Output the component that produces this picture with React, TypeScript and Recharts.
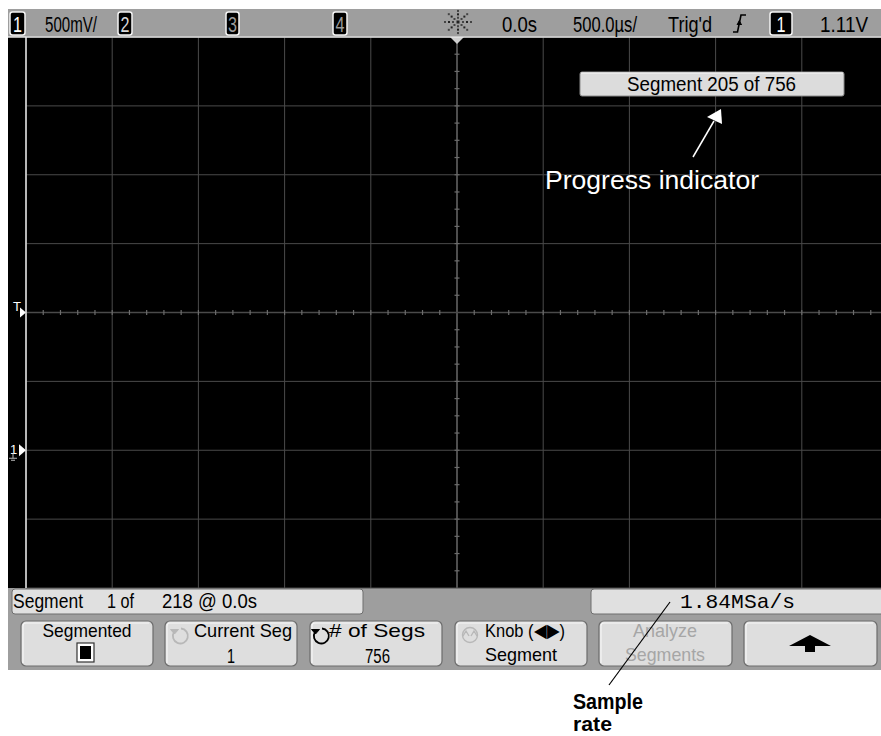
import React from "react";
import {
  ComposedChart,
  XAxis,
  YAxis,
  Scatter,
  ReferenceLine,
  ReferenceDot,
} from "recharts";

// ---- Graticule: 500 µs/div horizontally, 500 mV/div vertically ----
const timeMajorTicksUs = [-2500, -2000, -1500, -1000, -500, 0, 500, 1000, 1500, 2000, 2500];
const voltMajorTicks = [-2, -1.5, -1, -0.5, 0, 0.5, 1, 1.5, 2];
const timeMinorTicksUs = [
  -2400, -2300, -2200, -2100, -2000, -1900, -1800, -1700, -1600, -1500, -1400, -1300,
  -1200, -1100, -1000, -900, -800, -700, -600, -500, -400, -300, -200, -100,
  100, 200, 300, 400, 500, 600, 700, 800, 900, 1000, 1100, 1200,
  1300, 1400, 1500, 1600, 1700, 1800, 1900, 2000, 2100, 2200, 2300, 2400,
];
const voltMinorTicks = [
  -1.875, -1.75, -1.625, -1.5, -1.375, -1.25, -1.125, -1, -0.875, -0.75, -0.625, -0.5,
  -0.375, -0.25, -0.125, 0.125, 0.25, 0.375, 0.5, 0.625, 0.75, 0.875, 1,
  1.125, 1.25, 1.375, 1.5, 1.625, 1.75, 1.875,
];

// ---- Markers ----
const triggerTimeUs = 0;
const triggerMarkerVolt = 0;
const ch1GroundVolt = -1;

// ---- Status / softkey texts ----
const channelLabels = ["1", "2", "3", "4"];
const ch1Scale = "500mV/";
const timeRef = "0.0s";
const timeScale = "500.0µs/";
const trigStatus = "Trig'd";
const trigSource = "1";
const trigLevel = "1.11V";
const progressText = "Segment 205 of 756";
const segmentInfo = ["Segment", "1 of", "218 @ 0.0s"];
const sampleRate = "1.84MSa/s";
const softkeyTop = ["Segmented", "Current Seg", "# of Segs", "Knob (◀▶)", "Analyze"];
const softkeyBottom = ["1", "756", "Segment", "Segments"];
const annotations = ["Progress indicator", "Sample", "rate"];

const xMinorPts = timeMinorTicksUs.map((t) => ({ t, v: 0 }));
const yMinorPts = voltMinorTicks.map((v) => ({ t: 0, v }));

const NARROW = "'Liberation Sans Narrow','Arial Narrow','Liberation Sans',Arial,sans-serif";
const SANS = "'Liberation Sans',Arial,sans-serif";
const MONO = "'Liberation Mono','DejaVu Sans Mono',monospace";

type TP = {
  x: number;
  y: number;
  w?: number;
  size?: number;
  fill?: string;
  anchor?: "start" | "middle" | "end";
  family?: string;
  weight?: number | string;
  children: React.ReactNode;
};
const T = ({ x, y, w, size = 22, fill = "#000", anchor = "start", family = NARROW, weight = 400, children }: TP) => (
  <text
    x={x}
    y={y}
    fontSize={size}
    fill={fill}
    textAnchor={anchor}
    fontFamily={family}
    fontWeight={weight}
    textLength={w}
    lengthAdjust={w ? "spacingAndGlyphs" : undefined}
  >
    {children}
  </text>
);

const ChBox = ({ x, w, label, color }: { x: number; w: number; label: string; color: string }) => (
  <g>
    <rect x={x} y={12} width={w} height={23} rx={2.5} fill="#000" stroke="#f4f4f4" strokeWidth={1.5} />
    <T x={x + w / 2} y={32} size={22} anchor="middle" fill={color} w={9}>
      {label}
    </T>
  </g>
);

const Button = ({ x, w }: { x: number; w: number }) => (
  <g>
    <rect x={x} y={621} width={w} height={45} rx={5} fill="#dedede" stroke="#6c6c6c" strokeWidth={1.2} />
    <path d={`M ${x + 2} ${663} V ${626} Q ${x + 2} ${623} ${x + 5} ${623} H ${x + w - 4}`} fill="none" stroke="#f6f6f6" strokeWidth={1.2} />
  </g>
);

const RotIcon = ({ cx, cy, color }: { cx: number; cy: number; color: string }) => (
  <g fill="none" stroke={color} strokeWidth={1.8}>
    <path d={`M ${cx - 6} ${cy - 4} A 7.5 7.5 0 1 0 ${cx + 1} ${cy - 7.5}`} />
    <path d={`M ${cx - 9.5} ${cy - 6.5} L ${cx - 5.5} ${cy - 2} L ${cx - 1.5} ${cy - 6.5} Z`} fill={color} stroke={color} strokeWidth={1} />
  </g>
);

const Star = ({ cx, cy }: { cx: number; cy: number }) => {
  const dots: React.ReactNode[] = [];
  const radii = [5, 9, 13];
  for (let k = 0; k < 8; k++) {
    const a = (k * Math.PI) / 4;
    radii.forEach((r, i) => {
      dots.push(
        <rect
          key={`${k}-${i}`}
          x={cx + r * Math.cos(a) - 1}
          y={cy + r * 0.85 * Math.sin(a) - 1}
          width={2}
          height={2}
          fill={i === 1 ? "#222" : "#444"}
        />
      );
    });
  }
  dots.push(<rect key="c" x={cx - 1.5} y={cy - 1.5} width={3} height={3} fill="#222" />);
  return <g>{dots}</g>;
};

const Chrome = () => (
  <svg width={881} height={736} style={{ position: "absolute", left: 0, top: 0, pointerEvents: "none" }}>
    {/* top status line */}
    <line x1={8} x2={881} y1={37} y2={37} stroke="#e6e6e6" strokeWidth={1.5} />
    <ChBox x={10} w={15} label={channelLabels[0]} color="#fff" />
    <T x={45} y={32} w={52}>{ch1Scale}</T>
    <ChBox x={118} w={14} label={channelLabels[1]} color="#d8d8d8" />
    <ChBox x={226} w={13} label={channelLabels[2]} color="#9a9a9a" />
    <ChBox x={333} w={14} label={channelLabels[3]} color="#9a9a9a" />
    <Star cx={458} cy={22} />
    <T x={502} y={32} w={35}>{timeRef}</T>
    <T x={573} y={32} w={64}>{timeScale}</T>
    <T x={668} y={32} w={44}>{trigStatus}</T>
    <g fill="none" stroke="#000" strokeWidth={1.6}>
      <path d="M 733 32 H 737.5 L 741 15 H 746" />
      <path d="M 737 25 L 739.3 20.5 L 741.6 25" fill="#000" strokeWidth={1} />
    </g>
    <rect x={770} y={12} width={22} height={23} rx={2.5} fill="#000" stroke="#f4f4f4" strokeWidth={1.5} />
    <T x={781} y={32} size={22} anchor="middle" fill="#fff" w={9}>{trigSource}</T>
    <T x={820} y={32} w={48}>{trigLevel}</T>

    {/* plot left border */}
    <line x1={26} x2={26} y1={37} y2={588} stroke="#e8e8e8" strokeWidth={1.5} />

    {/* progress indicator */}
    <rect x={580} y={72} width={264} height={24} rx={2} fill="#dcdcdc" stroke="#8a8a8a" strokeWidth={1} />
    <line x1={581} x2={843} y1={73} y2={73} stroke="#f8f8f8" />
    <T x={627} y={91} size={20} w={169}>{progressText}</T>
    <line x1={693} y1={157} x2={714} y2={121} stroke="#fff" strokeWidth={1.5} />
    <polygon points="721,109 707,117 722,124" fill="#fff" />
    <T x={545} y={189} size={25} family={SANS} fill="#fff" w={214}>{annotations[0]}</T>

    {/* bottom info line */}
    <rect x={12} y={589} width={351} height={25} rx={3} fill="#e0e0e0" stroke="#6e6e6e" strokeWidth={1} />
    <T x={13} y={608} size={21} w={70}>{segmentInfo[0]}</T>
    <T x={107} y={608} size={21} w={27}>{segmentInfo[1]}</T>
    <T x={162} y={608} size={21} w={95}>{segmentInfo[2]}</T>
    <rect x={591} y={589} width={300} height={25} rx={3} fill="#e0e0e0" stroke="#6e6e6e" strokeWidth={1} />
    <T x={680} y={608} size={21} family={MONO} w={115}>{sampleRate}</T>

    {/* softkeys */}
    <Button x={21} w={132} />
    <T x={87} y={637} size={19} anchor="middle" w={89}>{softkeyTop[0]}</T>
    <rect x={77} y={643} width={17} height={19} fill="#fff" stroke="#333" strokeWidth={1.2} />
    <rect x={80} y={646} width={11} height={13} fill="#000" />

    <Button x={165} w={132} />
    <RotIcon cx={180} cy={636} color="#b8b8b8" />
    <T x={194} y={637} size={19} w={98}>{softkeyTop[1]}</T>
    <T x={231} y={663} size={20} anchor="middle" w={8}>{softkeyBottom[0]}</T>

    <Button x={310} w={132} />
    <RotIcon cx={321} cy={636} color="#000" />
    <T x={329} y={637} size={19} w={96}>{softkeyTop[2]}</T>
    <T x={365} y={663} size={20} w={25}>{softkeyBottom[1]}</T>

    <Button x={455} w={132} />
    <g fill="none" stroke="#b8b8b8" strokeWidth={1.4}>
      <circle cx={470} cy={635} r={7.5} />
      <path d="M 463 636 L 466 631 L 469 636 M 471 636 L 474 631 L 477 636" />
    </g>
    <T x={485} y={637} size={19} w={80}>{softkeyTop[3]}</T>
    <T x={485} y={661} size={19} w={72}>{softkeyBottom[2]}</T>

    <Button x={599} w={133} />
    <T x={633} y={637} size={19} fill="#a6a6a6" w={64}>{softkeyTop[4]}</T>
    <T x={625} y={661} size={19} fill="#a6a6a6" w={80}>{softkeyBottom[3]}</T>

    <Button x={744} w={133} />
    <polygon points="789,646 810,635 831,646 815,646 815,652 805,652 805,646" fill="#000" />

    {/* sample-rate callout */}
    <line x1={670} y1={602} x2={609} y2={685} stroke="#000" strokeWidth={1.2} />
    <T x={573} y={709} size={22} family={SANS} weight={700} w={70}>{annotations[1]}</T>
    <T x={573} y={731} size={21} family={SANS} weight={700} w={39}>{annotations[2]}</T>
  </svg>
);

const xTickShape = (p: any) => (
  <line x1={p.cx} x2={p.cx} y1={p.cy - 2.5} y2={p.cy + 2.5} stroke="#6c6c6c" strokeWidth={1.2} />
);
const yTickShape = (p: any) => (
  <line x1={p.cx - 2.5} x2={p.cx + 2.5} y1={p.cy} y2={p.cy} stroke="#6c6c6c" strokeWidth={1.2} />
);

const TrigTopShape = (p: any) => (
  <polygon points={`${p.cx - 7},${p.cy} ${p.cx + 7},${p.cy} ${p.cx},${p.cy + 7}`} fill="#cfcfcf" />
);
const TrigLeftShape = (p: any) => (
  <g>
    <text x={p.cx - 13} y={p.cy - 2} fontSize={13} fill="#fff" fontFamily={NARROW}>T</text>
    <polygon points={`${p.cx - 6},${p.cy - 5} ${p.cx},${p.cy} ${p.cx - 6},${p.cy + 5}`} fill="#fff" />
  </g>
);
const GroundShape = (p: any) => (
  <g>
    <text x={p.cx - 16} y={p.cy + 4} fontSize={13} fill="#fff" fontFamily={NARROW}>1</text>
    <polygon points={`${p.cx - 7},${p.cy - 6} ${p.cx},${p.cy} ${p.cx - 7},${p.cy + 6}`} fill="#fff" />
    <g stroke="#bbb" strokeWidth={1}>
      <line x1={p.cx - 13} x2={p.cx - 13} y1={p.cy + 3} y2={p.cy + 8} />
      <line x1={p.cx - 17} x2={p.cx - 9} y1={p.cy + 8} y2={p.cy + 8} />
      <line x1={p.cx - 15} x2={p.cx - 11} y1={p.cy + 10} y2={p.cy + 10} />
    </g>
  </g>
);

export default function App() {
  return (
    <div style={{ position: "fixed", left: 0, top: 0, width: 881, height: 736, background: "#fff", overflow: "hidden" }}>
      <div style={{ position: "absolute", left: 8, top: 9, width: 873, height: 28, background: "#9e9e9e" }} />
      <div style={{ position: "absolute", left: 8, top: 37, width: 873, height: 551, background: "#000" }} />
      <div style={{ position: "absolute", left: 8, top: 588, width: 873, height: 82, background: "#9e9e9e" }} />
      <div style={{ position: "absolute", left: 0, top: 0 }}>
        <ComposedChart width={881} height={736} margin={{ top: 37, left: 26, right: -7, bottom: 148 }}>
          <XAxis
            type="number"
            dataKey="t"
            domain={[-2500, 2500]}
            ticks={timeMajorTicksUs}
            tick={false}
            tickLine={false}
            axisLine={false}
            height={0}
            allowDataOverflow
          />
          <YAxis
            type="number"
            dataKey="v"
            domain={[-2, 2]}
            ticks={voltMajorTicks}
            tick={false}
            tickLine={false}
            axisLine={false}
            width={0}
            allowDataOverflow
          />
          {timeMajorTicksUs.map((t) => (
            <ReferenceLine key={`gx${t}`} x={t} stroke={t === 0 ? "#4e4e4e" : "#4a4a4a"} strokeWidth={t === 0 ? 2 : 1} />
          ))}
          {voltMajorTicks.map((v) => (
            <ReferenceLine key={`gy${v}`} y={v} stroke="#4a4a4a" strokeWidth={v === 0 ? 1.5 : 1} />
          ))}
          <Scatter data={xMinorPts} shape={xTickShape} isAnimationActive={false} />
          <Scatter data={yMinorPts} shape={yTickShape} isAnimationActive={false} />
          <ReferenceDot x={triggerTimeUs} y={2} r={0} shape={TrigTopShape} ifOverflow="visible" />
          <ReferenceDot x={-2500} y={triggerMarkerVolt} r={0} shape={TrigLeftShape} ifOverflow="visible" />
          <ReferenceDot x={-2500} y={ch1GroundVolt} r={0} shape={GroundShape} ifOverflow="visible" />
        </ComposedChart>
      </div>
      <Chrome />
    </div>
  );
}
